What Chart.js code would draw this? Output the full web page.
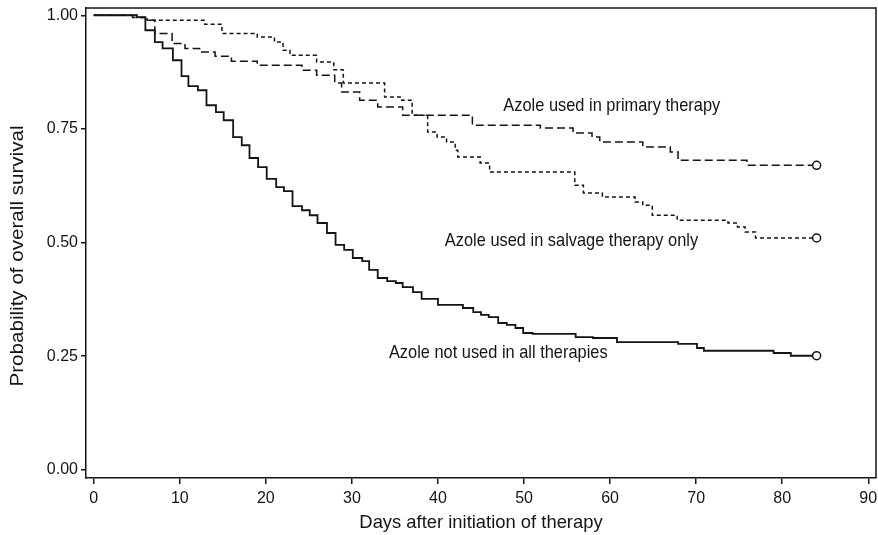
<!DOCTYPE html>
<html>
<head>
<meta charset="utf-8">
<script src="https://cdn.jsdelivr.net/npm/chart.js@4.4.1/dist/chart.umd.min.js"></script>
<style>
  html, body { margin: 0; padding: 0; background: #fff; }
  #c { display: block; }
</style>
</head>
<body>
<canvas id="c" width="878" height="535"></canvas>
<script>
// Kaplan-Meier curves (day of step, survival after step)
const noneDays = [0, 5.0, 6.0, 7.1, 8.0, 9.2, 10.2, 11.0, 12.1, 13.1, 14.2, 15.1, 16.2, 17.2, 18.1, 19.1, 20.1, 21.2, 22.1, 23.1, 24.2, 25.1, 26.0, 27.1, 28.1, 29.1, 30.1, 31.2, 32.0, 33.0, 34.1, 35.1, 35.9, 37.1, 38.1, 40.0, 42.9, 44.1, 45.0, 45.9, 47.0, 48.0, 49.0, 49.9, 51.0, 56.0, 58.0, 60.8, 67.9, 70.1, 70.9, 79.0, 81.0, 84.0]
const noneSurv = [1.0, 0.996, 0.967, 0.941, 0.927, 0.901, 0.866, 0.844, 0.835, 0.802, 0.787, 0.769, 0.732, 0.714, 0.686, 0.666, 0.640, 0.622, 0.613, 0.580, 0.571, 0.560, 0.543, 0.521, 0.495, 0.484, 0.466, 0.459, 0.440, 0.422, 0.415, 0.411, 0.402, 0.391, 0.376, 0.363, 0.356, 0.347, 0.341, 0.336, 0.323, 0.319, 0.312, 0.301, 0.299, 0.292, 0.290, 0.281, 0.277, 0.268, 0.262, 0.257, 0.251, 0.251]

const primaryDays = [0, 4.5, 6.0, 7.1, 9.1, 10.6, 12.3, 14.1, 16.0, 19.0, 24.2, 25.9, 28.0, 28.8, 30.9, 33.0, 35.9, 44.0, 51.9, 55.7, 57.9, 58.8, 63.8, 67.0, 67.9, 75.9, 84.0]
const primarySurv = [1.0, 0.995, 0.989, 0.960, 0.938, 0.927, 0.919, 0.910, 0.899, 0.890, 0.879, 0.868, 0.851, 0.831, 0.813, 0.798, 0.780, 0.758, 0.752, 0.741, 0.732, 0.721, 0.710, 0.699, 0.681, 0.670, 0.670]

const salvageDays = [0, 5.0, 6.2, 12.9, 14.9, 19.0, 21.0, 22.0, 22.8, 25.9, 27.9, 29.0, 33.8, 35.8, 37.0, 38.8, 39.9, 41.0, 42.0, 42.3, 44.9, 46.0, 55.9, 56.9, 59.1, 62.9, 63.8, 64.9, 67.8, 73.7, 74.8, 75.7, 76.9, 84.0]
const salvageSurv = [1.0, 0.995, 0.989, 0.980, 0.960, 0.952, 0.941, 0.923, 0.912, 0.897, 0.880, 0.851, 0.820, 0.813, 0.780, 0.743, 0.732, 0.721, 0.703, 0.688, 0.675, 0.655, 0.626, 0.609, 0.600, 0.589, 0.582, 0.560, 0.549, 0.543, 0.534, 0.523, 0.510, 0.510]

const xTicks = [0, 10, 20, 30, 40, 50, 60, 70, 80, 90]
const yTicks = [0, 0.25, 0.5, 0.75, 1.0]

// curve labels: text, day, survival where the text starts
const curveLabels = [
  { text: 'Azole used in primary therapy', day: 47.6, surv: 0.800 },
  { text: 'Azole used in salvage therapy only', day: 40.8, surv: 0.503 },
  { text: 'Azole not used in all therapies', day: 34.3, surv: 0.257 },
]
const yTitle = 'Probability of overall survival'

const INK = '#141414'
const FONT = '"Liberation Sans", Arial, Helvetica, sans-serif'
// the source figure's lettering is a bit stretched vertically
const STRETCH = 1.12

function toPoints(days, surv) {
  return days.map((d, i) => ({ x: d, y: surv[i] }))
}

function lastOnly(r) {
  return ctx => ctx.dataIndex === ctx.dataset.data.length - 1 ? r : 0
}

// no auto padding from tick labels, the plot box is placed by hand
function noPad(s) {
  s.paddingLeft = 0; s.paddingRight = 0; s.paddingTop = 0; s.paddingBottom = 0
}

const frame = {
  id: 'frame',
  afterDraw(chart) {
    const { ctx, chartArea: a } = chart
    ctx.save()
    ctx.strokeStyle = INK
    ctx.lineWidth = 1.5
    ctx.beginPath()
    ctx.moveTo(a.left, a.top)
    ctx.lineTo(a.right, a.top)
    ctx.lineTo(a.right, a.bottom)
    ctx.stroke()

    // y axis title, drawn by hand so it can sit a little low like the original
    ctx.fillStyle = INK
    ctx.font = '18.4px ' + FONT
    ctx.textAlign = 'center'
    ctx.textBaseline = 'middle'
    ctx.translate(18, (a.top + a.bottom) / 2 + 13)
    ctx.rotate(-Math.PI / 2)
    ctx.scale(STRETCH, 1)
    ctx.fillText(yTitle, 0, 0)
    ctx.restore()
  }
}

const labelsPlugin = {
  id: 'curveLabels',
  afterDatasetsDraw(chart) {
    const { ctx, scales: { x, y } } = chart
    curveLabels.forEach(l => {
      ctx.save()
      ctx.fillStyle = INK
      ctx.font = '16.4px ' + FONT
      ctx.textAlign = 'left'
      ctx.textBaseline = 'middle'
      ctx.translate(x.getPixelForValue(l.day), y.getPixelForValue(l.surv))
      ctx.scale(1, STRETCH)
      ctx.fillText(l.text, 0, 0)
      ctx.restore()
    })
  }
}

const common = {
  stepped: true,
  fill: false,
  borderColor: INK,
  pointRadius: lastOnly(4),
  pointHoverRadius: 0,
  pointBackgroundColor: '#fff',
  pointBorderColor: INK,
  pointBorderWidth: 1.5,
}

new Chart(document.getElementById('c'), {
  type: 'line',
  data: {
    datasets: [
      { ...common, label: 'primary', data: toPoints(primaryDays, primarySurv), borderWidth: 1.5, borderDash: [8, 4] },
      { ...common, label: 'salvage', data: toPoints(salvageDays, salvageSurv), borderWidth: 1.5, borderDash: [4, 3] },
      { ...common, label: 'none', data: toPoints(noneDays, noneSurv), borderWidth: 1.8 },
    ],
  },
  options: {
    responsive: false,
    animation: false,
    devicePixelRatio: 1,
    layout: { autoPadding: false, padding: { top: 8, right: 2, left: 0, bottom: 0 } },
    plugins: { legend: { display: false }, tooltip: { enabled: false } },
    scales: {
      x: {
        type: 'linear',
        min: -0.9,
        max: 90.9,
        afterBuildTicks: s => { s.ticks = xTicks.map(v => ({ value: v })) },
        afterFit: s => { s.height = 57; noPad(s) },
        ticks: { color: INK, font: { family: FONT, size: 16 }, padding: 5, maxRotation: 0 },
        grid: { drawOnChartArea: false, drawTicks: true, tickLength: 6, color: INK, lineWidth: 1.5 },
        border: { display: true, color: INK, width: 1.5 },
        title: { display: true, text: 'Days after initiation of therapy', color: INK, font: { family: FONT, size: 18.4 }, padding: { top: 0, bottom: 1 } },
      },
      y: {
        type: 'linear',
        min: -0.018,
        max: 1.016,
        afterBuildTicks: s => { s.ticks = yTicks.map(v => ({ value: v })) },
        afterFit: s => { s.width = 86; noPad(s) },
        ticks: { color: INK, font: { family: FONT, size: 16 }, padding: 3, callback: v => v.toFixed(2) },
        grid: { drawOnChartArea: false, drawTicks: true, tickLength: 5, color: INK, lineWidth: 1.5 },
        border: { display: true, color: INK, width: 1.5 },
      },
    },
  },
  plugins: [frame, labelsPlugin],
})
</script>
</body>
</html>
